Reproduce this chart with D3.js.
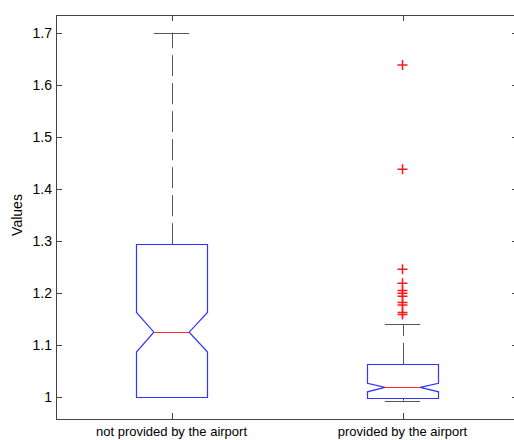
<!DOCTYPE html>
<meta charset="utf-8">
<head>
  <script src="https://cdn.jsdelivr.net/npm/d3@7"></script>
  <style>
    body { margin: 0; background: #fff; }
    text { font-family: "Liberation Sans", Arial, sans-serif; fill: #000; }
  </style>
</head>
<body>
<script type="text/javascript">

var w = 514;
var h = 440;

// box plot stats
var categories = ["not provided by the airport", "provided by the airport"];
var q1 = [1.000, 0.999];
var medians = [1.125, 1.019];
var q3 = [1.294, 1.064];
var whiskerLow = [1.000, 0.9935];
var whiskerHigh = [1.700, 1.141];
var notchLow = [1.087, 1.0105];
var notchHigh = [1.163, 1.027];
var outliers = [
  [],
  [1.638, 1.438, 1.246, 1.219, 1.205, 1.200, 1.194, 1.182, 1.177, 1.163, 1.159]
];
var yTicks = [1, 1.1, 1.2, 1.3, 1.4, 1.5, 1.6, 1.7];
var yTickLabels = ["1", "1.1", "1.2", "1.3", "1.4", "1.5", "1.6", "1.7"];

// plot frame (note: "top" is reserved on window, so use plotTop)
var plotLeft = 56, plotRight = 518, plotTop = 15, plotBottom = 419;
var boxHalf = 0.153;   // in x units
var tickLen = 6;

var x = d3.scaleLinear().domain([0.5, 2.5]).range([plotLeft, plotRight]);
var y = d3.scaleLinear().domain([1, 1.7]).range([397.3, 32.7]);

var px = function(v){ return Math.round(v) + 0.5; };

var svg = d3.select("body").append("svg")
    .attr("width", w)
    .attr("height", h);

var stats = categories.map(function(c, i){
  return {i: i + 1, name: c, q1: q1[i], med: medians[i], q3: q3[i],
          lo: whiskerLow[i], hi: whiskerHigh[i], nlo: notchLow[i], nhi: notchHigh[i],
          out: outliers[i]};
});

var g = svg.append("g");

// whiskers (drawn from the box outward)
stats.forEach(function(d){
  var cx = px(x(d.i));
  g.append("line")
    .attr("x1", cx).attr("x2", cx)
    .attr("y1", y(d.q3)).attr("y2", y(d.hi))
    .attr("stroke", "#555").attr("stroke-dasharray", "21,7");
  g.append("line")
    .attr("x1", cx).attr("x2", cx)
    .attr("y1", y(d.q1)).attr("y2", y(d.lo))
    .attr("stroke", "#555").attr("stroke-dasharray", "21,7");
  [d.hi, d.lo].forEach(function(v){
    g.append("line")
      .attr("x1", x(d.i - boxHalf / 2)).attr("x2", x(d.i + boxHalf / 2))
      .attr("y1", px(y(v))).attr("y2", px(y(v)))
      .attr("stroke", "#555");
  });
});

// notched boxes
stats.forEach(function(d){
  var xl = px(x(d.i - boxHalf)), xr = px(x(d.i + boxHalf));
  var nl = x(d.i - boxHalf / 2), nr = x(d.i + boxHalf / 2);
  var pts = [
    [xl, px(y(d.q3))], [xr, px(y(d.q3))], [xr, y(d.nhi)], [nr, y(d.med)],
    [xr, y(d.nlo)], [xr, px(y(d.q1))], [xl, px(y(d.q1))], [xl, y(d.nlo)],
    [nl, y(d.med)], [xl, y(d.nhi)]
  ];
  g.append("path")
    .attr("d", d3.line()(pts) + "Z")
    .attr("fill", "none")
    .attr("stroke", "#3333ff")
    .attr("stroke-width", 1.2);
  g.append("line")
    .attr("x1", nl).attr("x2", nr)
    .attr("y1", px(y(d.med))).attr("y2", px(y(d.med)))
    .attr("stroke", "#ff2a2a")
    .attr("stroke-width", 1.2);
});

// outliers as red plus signs
stats.forEach(function(d){
  var cx = x(d.i);
  g.selectAll(null)
    .data(d.out)
    .enter()
    .append("path")
    .attr("d", function(v){
      var cy = y(v);
      return "M" + (cx - 5) + "," + cy + "H" + (cx + 5) + "M" + cx + "," + (cy - 5) + "V" + (cy + 5);
    })
    .attr("stroke", "#ff1a1a")
    .attr("stroke-width", 1.5)
    .attr("fill", "none");
});

// frame and ticks
var ax = svg.append("g").attr("stroke", "#444").attr("fill", "none");
ax.append("rect")
  .attr("x", plotLeft + 0.5).attr("y", plotTop + 0.5)
  .attr("width", plotRight - plotLeft).attr("height", plotBottom - plotTop);

yTicks.forEach(function(v){
  var ty = px(y(v));
  ax.append("line").attr("x1", plotLeft).attr("x2", plotLeft + tickLen).attr("y1", ty).attr("y2", ty);
  ax.append("line").attr("x1", plotRight - tickLen).attr("x2", plotRight).attr("y1", ty).attr("y2", ty);
});
stats.forEach(function(d){
  var tx = px(x(d.i));
  ax.append("line").attr("x1", tx).attr("x2", tx).attr("y1", plotBottom).attr("y2", plotBottom - tickLen);
  ax.append("line").attr("x1", tx).attr("x2", tx).attr("y1", plotTop).attr("y2", plotTop + tickLen);
});

svg.selectAll(".ylab")
  .data(yTicks)
  .enter()
  .append("text")
  .attr("class", "ylab")
  .attr("x", plotLeft - 4)
  .attr("y", function(v){ return y(v); })
  .attr("dy", "0.36em")
  .attr("text-anchor", "end")
  .style("font-size", "14px")
  .text(function(v, i){ return yTickLabels[i]; });

svg.selectAll(".xlab")
  .data(stats)
  .enter()
  .append("text")
  .attr("class", "xlab")
  .attr("x", function(d){ return x(d.i); })
  .attr("y", 436)
  .attr("text-anchor", "middle")
  .style("font-size", "13px")
  .text(function(d){ return d.name; });

svg.append("text")
  .attr("transform", "translate(22,215) rotate(-90)")
  .attr("text-anchor", "middle")
  .style("font-size", "14px")
  .text("Values");

</script>
</body>
